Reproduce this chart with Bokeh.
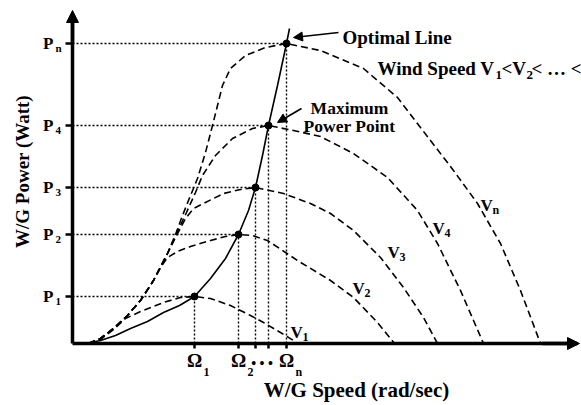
import math
from bokeh.plotting import figure
from bokeh.models import (Range1d, FixedTicker, Label, LabelSet, ColumnDataSource,
                          Arrow, NormalHead)
from bokeh.core.properties import value
from bokeh.embed import file_html
from bokeh.resources import INLINE

FONT = "Liberation Serif"

omega = [122, 166, 183, 196, 214]        # W/G speed at each maximum power point
p_max = [47, 109, 156, 218, 300]         # maximum powers P1, P2, P3, P4, Pn
p_subs = ["1", "2", "3", "4", "n"]
omega_names = ["Ω", "Ω", "", "", "Ω"]
omega_subs = ["1", "2", "", "", "n"]

v1_speed = [16, 28, 41, 53, 68, 91, 108, 122, 138, 158, 178, 191, 208, 221, 225]
v1_power = [0, 4, 14, 25, 32, 41, 46, 47, 45, 38, 28, 21, 11, 3, 0]

v2_speed = [16, 28, 41, 55, 68, 81, 88, 95, 105, 118, 138, 153, 166, 180, 195, 225, 258, 281, 305, 322]
v2_power = [0, 5, 15, 28, 43, 63, 76, 86, 92, 97, 103, 107, 109, 108, 103, 83, 63, 46, 21, 0]

v3_speed = [16, 28, 41, 55, 68, 81, 95, 104, 113, 121, 131, 151, 168, 183, 211, 238, 258, 281, 308, 331, 351, 365]
v3_power = [0, 5, 15, 28, 43, 63, 90, 108, 125, 135, 140, 150, 154, 156, 150, 140, 130, 113, 86, 56, 26, 0]

v4_speed = [16, 28, 41, 55, 68, 81, 95, 104, 114, 123, 130, 143, 160, 180, 196, 221, 248, 281, 315, 345, 365, 388, 411]
v4_power = [0, 5, 15, 28, 43, 63, 90, 110, 131, 151, 168, 188, 205, 215, 218, 213, 207, 190, 166, 133, 100, 53, 0]

vn_speed = [16, 28, 41, 55, 68, 81, 95, 103, 110, 116, 125, 133, 140, 145, 150, 158, 173, 193, 214,
            248, 291, 325, 358, 381, 405, 428, 448, 468]
vn_power = [0, 5, 15, 28, 43, 63, 90, 109, 128, 143, 165, 191, 218, 238, 258, 275, 288, 296, 300,
            293, 275, 246, 203, 173, 140, 100, 53, 0]

opt_speed = [13, 28, 43, 58, 75, 91, 107, 122, 138, 153, 166, 176, 183, 190, 196, 205, 214, 217]
opt_power = [0, 3, 8, 15, 22, 31, 38, 47, 65, 85, 109, 133, 156, 188, 218, 258, 300, 315]

curve_names = ["V", "V", "V", "V", "V"]
curve_subs = ["1", "2", "3", "4", "n"]

# ---------------- figure ----------------
p = figure(width=581, height=405, x_range=Range1d(-72, 509), y_range=Range1d(-62, 343),
           min_border=0, output_backend="svg", toolbar_location=None)
p.outline_line_color = None
p.grid.visible = False
p.background_fill_color = "white"
p.border_fill_color = "white"

for ax in (p.xaxis, p.yaxis):
    ax.fixed_location = 0
    ax.axis_line_width = 3.5
    ax.axis_line_color = "black"
    ax.major_tick_line_width = 2.5
    ax.major_tick_line_color = "black"
    ax.major_tick_in = 0
    ax.minor_tick_line_color = None
    ax.major_label_text_font = FONT
    ax.major_label_text_font_style = "bold"
    ax.major_label_text_color = "black"

p.xaxis.bounds = (0, 505)
p.xaxis.ticker = FixedTicker(ticks=omega)
p.xaxis.major_label_overrides = {o: n for o, n in zip(omega, omega_names)}
p.xaxis.major_tick_out = 5
p.xaxis.major_label_standoff = 1
p.xaxis.major_label_text_font_size = "19px"

p.yaxis.bounds = (0, 325)
p.yaxis.ticker = FixedTicker(ticks=p_max)
p.yaxis.major_label_overrides = {v: "P" for v in p_max}
p.yaxis.major_tick_out = 7
p.yaxis.major_label_standoff = 12
p.yaxis.major_label_text_font_size = "17px"

# axis arrow heads
p.add_layout(Arrow(x_start=0, y_start=300, x_end=0, y_end=333, line_width=3.5, line_color="black",
                   end=NormalHead(size=12, fill_color="black", line_color="black")))
p.add_layout(Arrow(x_start=470, y_start=0, x_end=507, y_end=0, line_width=3.5, line_color="black",
                   end=NormalHead(size=12, fill_color="black", line_color="black")))

# dotted guides
zeros = [0] * len(omega)
p.segment(x0=zeros, y0=p_max, x1=omega, y1=p_max, line_dash="2 2", line_width=1.4, color="black")
p.segment(x0=omega, y0=zeros, x1=omega, y1=p_max, line_dash="2 2", line_width=1.4, color="black")

# power curves
for sp, pw in [(v1_speed, v1_power), (v2_speed, v2_power), (v3_speed, v3_power),
               (v4_speed, v4_power), (vn_speed, vn_power)]:
    p.line(sp, pw, line_dash="7 4", line_width=1.6, color="black")

# optimal line and maximum power points
p.line(opt_speed, opt_power, line_width=1.6, color="black")
p.scatter(omega, p_max, size=7, color="black")

# ---------------- texts ----------------
def lab(x, y, text, size, align="left", baseline="alphabetic", **kw):
    p.add_layout(Label(x=x, y=y, text=text, text_font=FONT, text_font_style="bold",
                       text_font_size=size, text_align=align, text_baseline=baseline,
                       text_color="black", **kw))

# tick-label subscripts
p.add_layout(LabelSet(source=ColumnDataSource(dict(x=zeros, y=p_max, t=p_subs)),
                      x="x", y="y", text="t", x_offset=-17, y_offset=-8.5,
                      text_font=value(FONT), text_font_style="bold", text_font_size="11px",
                      text_baseline="alphabetic", text_color="black"))
p.add_layout(LabelSet(source=ColumnDataSource(dict(x=omega, y=zeros, t=omega_subs)),
                      x="x", y="y", text="t", x_offset=9, y_offset=-32,
                      text_font=value(FONT), text_font_style="bold", text_font_size="12px",
                      text_baseline="alphabetic", text_color="black"))
lab((omega[2] + omega[3]) / 2, 0, "• • •", "14px", align="center", baseline="middle", y_offset=-20)

# axis titles
lab(284, 0, "W/G Speed (rad/sec)", "21px", align="center", y_offset=-46)
lab(0, 172, "W/G Power (Watt)", "19px", align="center", baseline="middle",
    x_offset=-50, angle=math.pi / 2)

# annotations
lab(270, 306, "Optimal Line", "19px")
p.add_layout(Arrow(x_start=266, y_start=311, x_end=221, y_end=306, line_width=1.6, line_color="black",
                   end=NormalHead(size=9, fill_color="black", line_color="black")))
lab(305, 275, "Wind Speed V", "19px")
lab(423, 269, "1", "13px")
lab(429, 275, "<V", "19px")
lab(454, 269, "2", "13px")
lab(459, 275, "< … <", "19px")
lab(277, 236, "Maximum", "17.5px", align="center")
lab(277, 218, "Power Point", "17.5px", align="center")
p.add_layout(Arrow(x_start=229, y_start=235, x_end=205, y_end=221, line_width=1.6, line_color="black",
                   end=NormalHead(size=9, fill_color="black", line_color="black")))

# curve names
vlab_x = [218, 280, 315, 360, 408]
vlab_y = [6, 50, 86, 110, 133]
p.add_layout(LabelSet(source=ColumnDataSource(dict(x=vlab_x, y=vlab_y, t=curve_names)),
                      x="x", y="y", text="t",
                      text_font=value(FONT), text_font_style="bold", text_font_size="17px",
                      text_baseline="alphabetic", text_color="black"))
p.add_layout(LabelSet(source=ColumnDataSource(dict(x=vlab_x, y=vlab_y, t=curve_subs)),
                      x="x", y="y", text="t", x_offset=12, y_offset=-3,
                      text_font=value(FONT), text_font_style="bold", text_font_size="12px",
                      text_baseline="alphabetic", text_color="black"))

open("out.html", "w").write(file_html(p, INLINE))
